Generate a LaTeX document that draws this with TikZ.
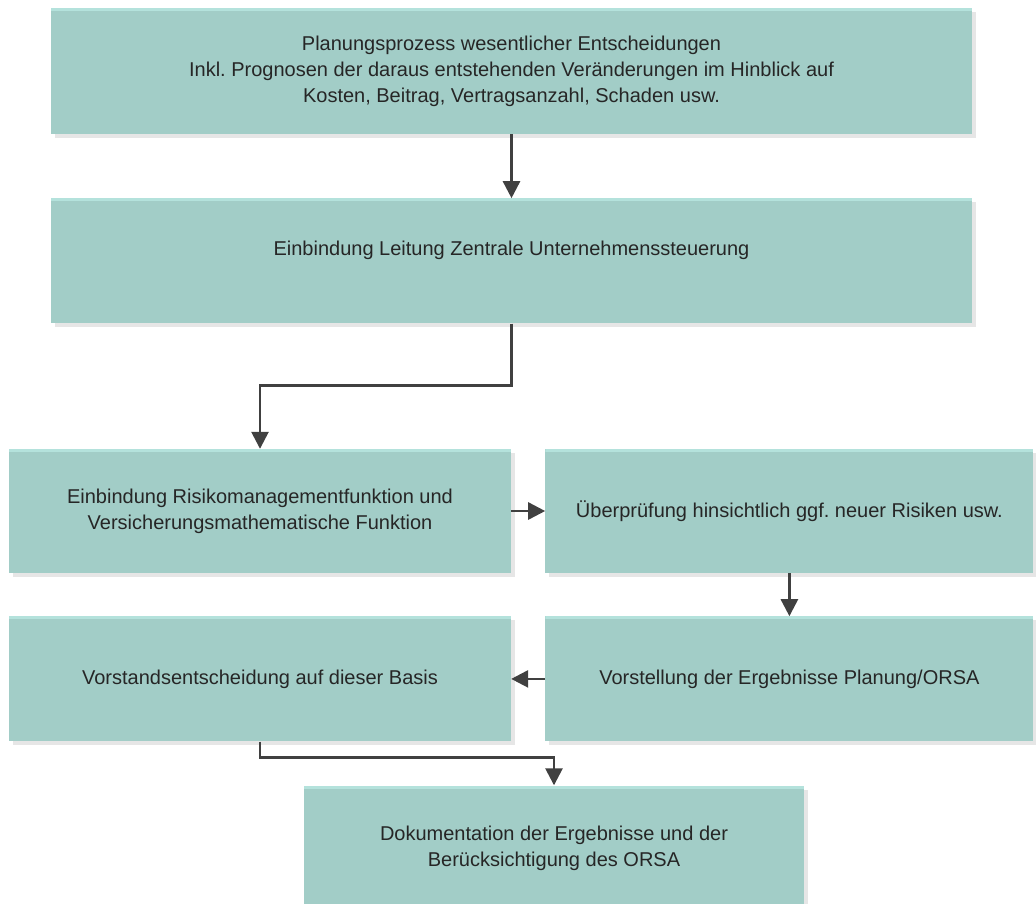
\documentclass[tikz,border=0pt]{standalone}
\usepackage{fontspec}
\setmainfont{Liberation Sans}
\usepackage{tikz}
\usetikzlibrary{positioning,calc,arrows.meta,shadows}
\definecolor{boxfill}{HTML}{A2CDC7}
\definecolor{boxtop}{HTML}{B4E2DC}
\definecolor{boxshade}{HTML}{E6E6E6}
\definecolor{arrowgray}{HTML}{404040}
\definecolor{textgray}{HTML}{262626}
\frenchspacing
\tikzstyle{block} = [rectangle, fill=boxfill, text=textgray, align=center, inner sep=0pt,
  font=\fontsize{20}{26}\selectfont,
  drop shadow={shadow xshift=4pt, shadow yshift=-4pt, fill=boxshade, opacity=1},
  path picture={\fill[boxtop] (path picture bounding box.north west) rectangle ([yshift=-3pt]path picture bounding box.north east);}]
\tikzstyle{flow} = [-{Triangle[length=17pt,width=17pt]}, line width=2.6pt, draw=arrowgray]

\begin{document}
\begin{tikzpicture}[x=1pt, y=1pt, node distance=30pt]
		\useasboundingbox (0,0) rectangle (1036,-903);
		\node (plan) [block, minimum width=921pt, minimum height=126pt] at (511.5,-71)
			{Planungsprozess wesentlicher Entscheidungen\\
			Inkl. Prognosen der daraus entstehenden Veränderungen im Hinblick auf\\
			Kosten, Beitrag, Vertragsanzahl, Schaden usw.};
		\node (lead) [block, minimum width=921pt, minimum height=125pt, below=64pt of plan]
			{Einbindung Leitung Zentrale Unternehmenssteuerung\\ \mbox{}};
		\node (risk) [block, minimum width=502pt, minimum height=124pt] at (260,-511)
			{Einbindung Risikomanagementfunktion und\\ Versicherungsmathematische Funktion};
		\node (check) [block, minimum width=488pt, minimum height=124pt, right=34pt of risk]
			{Überprüfung hinsichtlich ggf. neuer Risiken usw.};
		\node (board) [block, minimum width=502pt, minimum height=125pt, below=43pt of risk]
			{Vorstandsentscheidung auf dieser Basis};
		\node (result) [block, minimum width=488pt, minimum height=125pt, below=43pt of check]
			{Vorstellung der Ergebnisse Planung/ORSA};
		\node (docu) [block, minimum width=500pt, minimum height=125pt] at (554,-848)
			{Dokumentation der Ergebnisse und der\\ Berücksichtigung des ORSA};
		%
		\draw[flow] (plan) -- (lead);
		\draw[flow] (lead.south) -- ++(0,-62) -| (risk.north);
		\draw[flow] (risk) -- (check);
		\draw[flow] (check) -- (result);
		\draw[flow] (result) -- (board);
		\draw[flow] (board.south) -- ++(0,-16) -| (docu.north);
\end{tikzpicture}
\end{document}
